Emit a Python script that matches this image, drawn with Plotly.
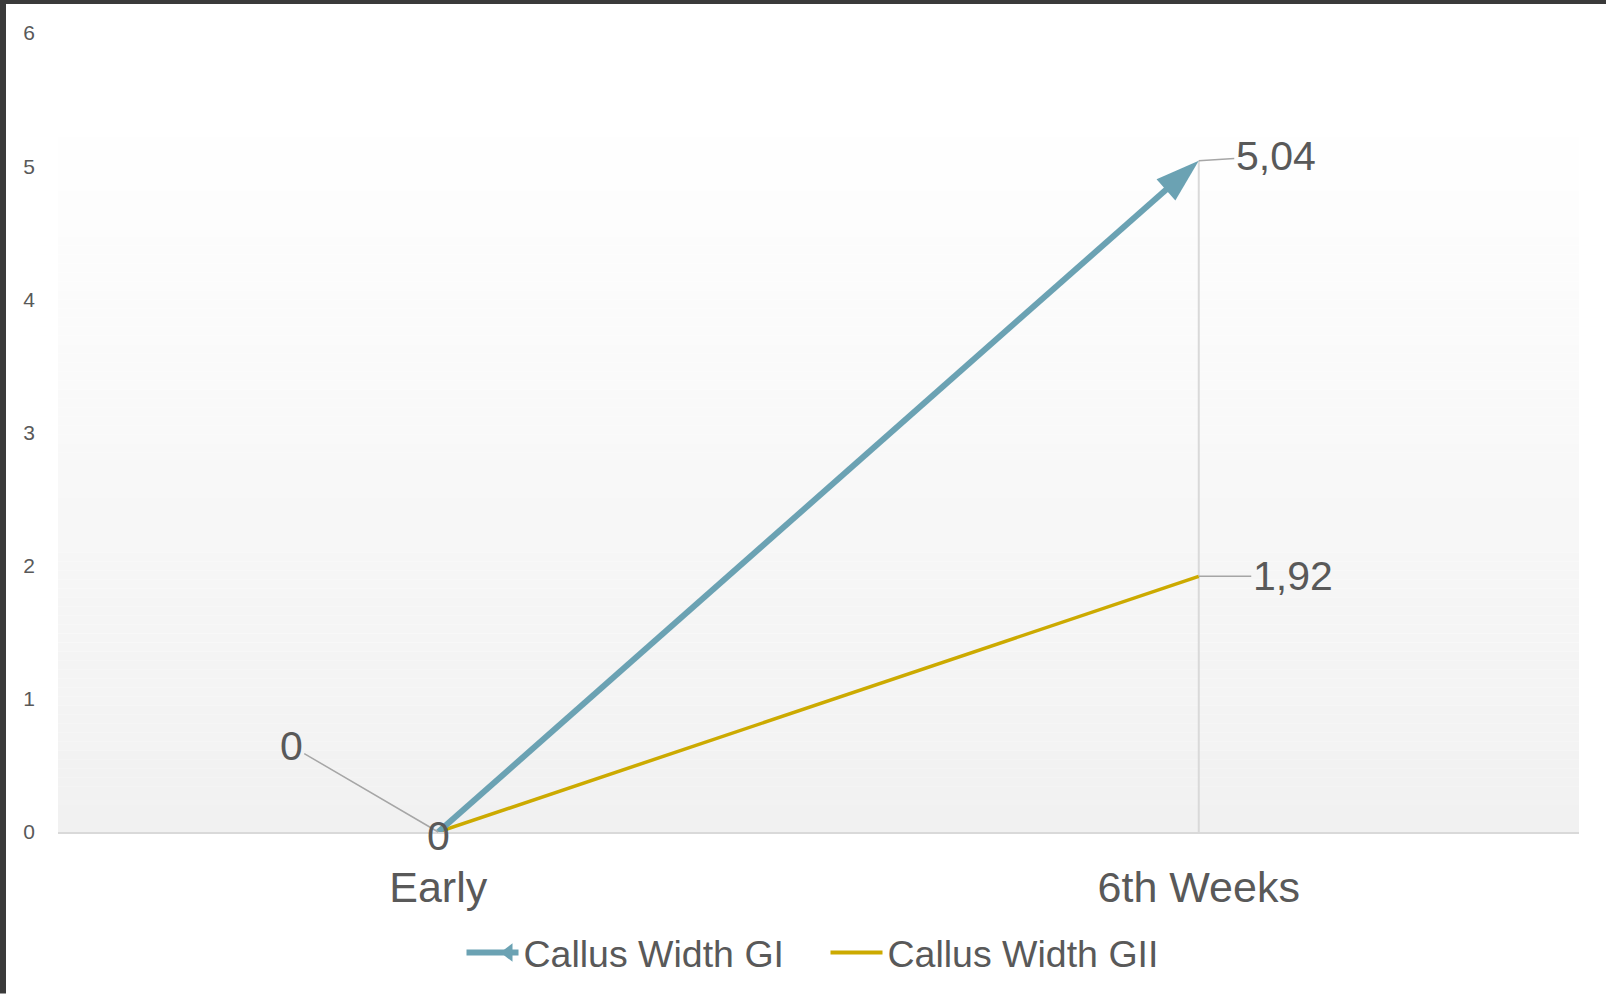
import plotly.graph_objects as go

categories = ["Early", "6th Weeks"]
gi_values = [0, 5.04]
gii_values = [0, 1.92]
gi_labels = ["0", "5,04"]
gii_labels = ["0", "1,92"]
y_ticks = [0, 1, 2, 3, 4, 5, 6]

W, H = 1606, 996
ML, MR, MT, MB = 58, 27, 33, 162
PW, PH = W - ML - MR, H - MT - MB

TEXT = "#595959"
C_GI = "#6ba2b3"
C_GII = "#ccaa00"
FONT = "Liberation Sans, Arial, sans-serif"


def px_x(px):
    return (px - ML) / PW


def px_y(py):
    return (H - MB - py) / PH


fig = go.Figure()

# drop lines (to highest value per category)
drop_x, drop_y = [], []
for c, a, b in zip(categories, gi_values, gii_values):
    drop_x += [c, c, None]
    drop_y += [0, max(a, b), None]
fig.add_trace(go.Scatter(x=drop_x, y=drop_y, mode="lines",
                         line=dict(color="#d9d9d9", width=2),
                         showlegend=False, hoverinfo="skip"))

fig.add_trace(go.Scatter(x=categories, y=gii_values, mode="lines",
                         line=dict(color=C_GII, width=3.5),
                         name="Callus Width GII", showlegend=False))
fig.add_trace(go.Scatter(x=categories, y=gi_values, mode="lines+markers",
                         line=dict(color=C_GI, width=6),
                         marker=dict(symbol=["circle", "arrow"], size=[0, 46],
                                     angleref="previous", color=C_GI, opacity=1,
                                     line=dict(width=0)),
                         name="Callus Width GI", showlegend=False))

# legend proxies
fig.add_trace(go.Scatter(x=[None], y=[None], mode="lines+markers",
                         line=dict(color=C_GI, width=6),
                         marker=dict(symbol="triangle-down", angle=90, standoff=16,
                                     size=16, color=C_GI, opacity=1,
                                     line=dict(width=0)),
                         name="Callus Width GI"))
fig.add_trace(go.Scatter(x=[None], y=[None], mode="lines",
                         line=dict(color=C_GII, width=4),
                         name="Callus Width GII"))

# data labels
ann = []
lab_font = dict(family=FONT, size=41, color=TEXT)
ann.append(dict(x=categories[0], y=gi_values[0], text=gi_labels[0], showarrow=True,
                ax=-147, ay=-86, arrowhead=0, arrowwidth=1.5, arrowcolor="#a6a6a6",
                font=lab_font, standoff=0))
ann.append(dict(x=categories[1], y=gi_values[1], text=gi_labels[1], showarrow=True,
                ax=77, ay=-5, arrowhead=0, arrowwidth=1.5, arrowcolor="#a6a6a6",
                font=lab_font, standoff=0))
ann.append(dict(x=categories[0], y=gii_values[0], text=gii_labels[0], showarrow=False,
                yshift=-4, font=lab_font))
ann.append(dict(x=categories[1], y=gii_values[1], text=gii_labels[1], showarrow=True,
                ax=94, ay=0, arrowhead=0, arrowwidth=1.5, arrowcolor="#a6a6a6",
                font=lab_font, standoff=0))

# gradient plot-area background
shapes = []
N = 80
top_px, bot_px = 110, H - MB
for i in range(N):
    y0p = top_px + (bot_px - top_px) * i / N
    y1p = top_px + (bot_px - top_px) * (i + 1) / N
    t = (i + 0.5) / N
    v = round(255 - 14 * t)
    shapes.append(dict(type="rect", xref="paper", yref="paper",
                       x0=0, x1=1, y0=px_y(y1p), y1=px_y(y0p),
                       fillcolor=f"rgb({v},{v},{v})", line=dict(width=0),
                       layer="below"))
# dark frame strips
shapes.append(dict(type="rect", xref="paper", yref="paper",
                   x0=px_x(0), x1=px_x(6), y0=px_y(H), y1=px_y(0),
                   fillcolor="#3a3a3a", line=dict(width=0), layer="above"))
shapes.append(dict(type="rect", xref="paper", yref="paper",
                   x0=px_x(0), x1=px_x(W), y0=px_y(4), y1=px_y(0),
                   fillcolor="#3a3a3a", line=dict(width=0), layer="above"))

fig.update_layout(
    width=W, height=H,
    margin=dict(l=ML, r=MR, t=MT, b=MB),
    paper_bgcolor="white", plot_bgcolor="rgba(0,0,0,0)",
    font=dict(family=FONT, color=TEXT),
    shapes=shapes, annotations=ann,
    showlegend=True,
    legend=dict(orientation="h", x=0.5 + 7 / PW, xanchor="center",
                y=px_y(955), yanchor="middle",
                font=dict(family=FONT, size=37.5, color=TEXT),
                itemwidth=52, entrywidth=297, bgcolor="rgba(0,0,0,0)"),
    hovermode=False,
)
fig.update_xaxes(type="category", range=[-0.5, 1.5], showgrid=False,
                 showline=True, linecolor="#d9d9d9", linewidth=2,
                 ticks="", tickfont=dict(family=FONT, size=43, color=TEXT),
                 ticklabelstandoff=16, zeroline=False)
fig.update_yaxes(range=[0, 6], tickvals=y_ticks, ticktext=[str(v) for v in y_ticks],
                 showgrid=False, showline=False, zeroline=False, ticks="",
                 tickfont=dict(family=FONT, size=21, color=TEXT),
                 ticklabelstandoff=22)

fig.write_html("out.html")
